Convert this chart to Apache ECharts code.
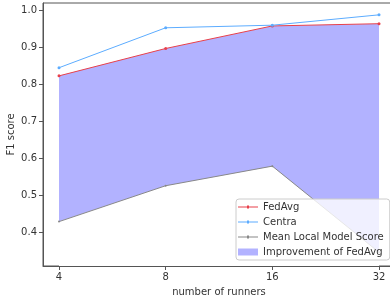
<!DOCTYPE html>
<html>
<head>
<meta charset="utf-8">
<script src="https://cdn.jsdelivr.net/npm/echarts@6/dist/echarts.min.js"></script>
<style>
  html, body { margin: 0; padding: 0; background: #fff; }
  #chart { width: 390px; height: 302px; }
</style>
</head>
<body>
<div id="chart"></div>
<script>
// values
const runners = [4, 8, 16, 32]
const fedAvg = [0.822, 0.896, 0.957, 0.963]
const centra = [0.844, 0.952, 0.959, 0.987]
const meanLocal = [0.428, 0.525, 0.578, 0.345]
const yTicks = [0.4, 0.5, 0.6, 0.7, 0.8, 0.9, 1.0]

const font = 'DejaVu Sans'
const axisColor = '#555'
const textColor = '#333'
const fillColor = 'rgba(0,0,255,0.3)'
const redColor = '#e8404a'
const blueColor = '#5cacff'
const greyColor = '#888'

// legend handle: thin line with a small dot in the middle
const lineIcon = 'path://M0,3L9,3L9,2L11,2L11,3L20,3L20,4L11,4L11,5L9,5L9,4L0,4Z'

const pairs = (ys) => runners.map((x, i) => [x, ys[i]])

const chart = echarts.init(document.getElementById('chart'))

const option = {
  animation: false,
  textStyle: { fontFamily: font },
  grid: {
    left: 43,
    top: 3,
    width: 352,
    bottom: 36,
    outerBoundsMode: 'none',
    containLabel: false,
    show: true,
    borderColor: axisColor,
    borderWidth: 1
  },
  legend: {
    orient: 'vertical',
    left: 236,
    top: 199,
    padding: [3, 6, 3, 2],
    itemGap: 5,
    itemWidth: 20,
    itemHeight: 7,
    backgroundColor: 'rgba(255,255,255,0.8)',
    borderColor: '#ccc',
    borderWidth: 1,
    borderRadius: 3,
    textStyle: { fontFamily: font, fontSize: 10, color: textColor },
    data: [
      { name: 'FedAvg', icon: lineIcon, itemStyle: { color: redColor } },
      { name: 'Centra', icon: lineIcon, itemStyle: { color: blueColor } },
      { name: 'Mean Local Model Score', icon: lineIcon, itemStyle: { color: greyColor } },
      { name: 'Improvement of FedAvg', icon: 'rect', itemStyle: { color: fillColor } }
    ]
  },
  xAxis: {
    type: 'log',
    logBase: 2,
    min: 4 / Math.pow(2, 0.15),
    max: 32 * Math.pow(2, 0.15),
    z: 10,
    name: 'number of runners',
    nameLocation: 'middle',
    nameGap: 21,
    nameMoveOverlap: false,
    nameTextStyle: { fontFamily: font, fontSize: 10, color: textColor },
    axisLine: { lineStyle: { color: axisColor } },
    axisTick: { length: 4, lineStyle: { color: axisColor }, customValues: runners },
    axisLabel: { fontFamily: font, fontSize: 10, color: textColor, margin: 6, customValues: runners },
    splitLine: { show: false },
    minorSplitLine: { show: false }
  },
  yAxis: {
    type: 'value',
    min: 0.308,
    max: 1.019,
    z: 10,
    name: 'F1 score',
    nameLocation: 'middle',
    nameGap: 27,
    nameMoveOverlap: false,
    nameTextStyle: { fontFamily: font, fontSize: 10, color: textColor },
    axisLine: { show: true, lineStyle: { color: axisColor } },
    axisTick: { show: true, length: 4, lineStyle: { color: axisColor }, customValues: yTicks },
    axisLabel: {
      fontFamily: font, fontSize: 10, color: textColor, margin: 6,
      customValues: yTicks,
      formatter: (v) => v.toFixed(1)
    },
    splitLine: { show: false }
  },
  series: [
    {
      // fill under FedAvg, masked below the mean local score
      name: 'Improvement of FedAvg',
      type: 'line',
      data: pairs(fedAvg),
      symbol: 'none',
      lineStyle: { width: 0 },
      itemStyle: { color: fillColor },
      areaStyle: { color: fillColor, opacity: 1, origin: 'start' },
      z: 1
    },
    {
      name: 'Mean Local Model Score',
      type: 'line',
      data: pairs(meanLocal),
      symbol: 'circle',
      symbolSize: 2,
      lineStyle: { color: greyColor, width: 1 },
      itemStyle: { color: greyColor },
      areaStyle: { color: '#fff', opacity: 1, origin: 'start' },
      z: 3
    },
    {
      name: 'FedAvg',
      type: 'line',
      data: pairs(fedAvg),
      symbol: 'circle',
      symbolSize: 3,
      lineStyle: { color: redColor, width: 1 },
      itemStyle: { color: redColor },
      z: 4
    },
    {
      name: 'Centra',
      type: 'line',
      data: pairs(centra),
      symbol: 'circle',
      symbolSize: 3,
      lineStyle: { color: blueColor, width: 1 },
      itemStyle: { color: blueColor },
      z: 4
    }
  ]
}

chart.setOption(option)
</script>
</body>
</html>
